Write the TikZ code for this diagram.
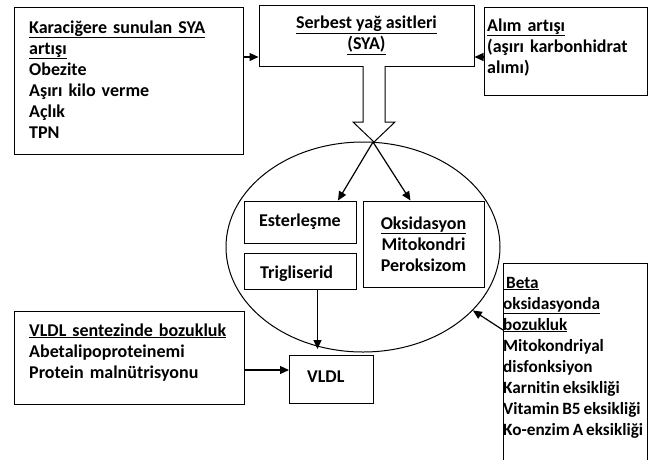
\documentclass[tikz,border=0pt]{standalone}
\usepackage{fontspec}
\setmainfont{Carlito}[Ligatures=NoCommon]
\usetikzlibrary{arrows.meta,shapes.geometric}
\begin{document}
\begin{tikzpicture}[x=1pt,y=-1pt,
  every node/.style={font=\fontsize{18}{21}\selectfont\bfseries},
  box/.style={draw, line width=1pt, inner sep=0pt, anchor=north west},
  txt/.style={anchor=base west, inner sep=0pt, align=left, text width=210pt},
  arr/.style={-{Triangle[length=9pt,width=8pt]}, line width=1.2pt},
  hollow/.style={draw, fill=white, line width=1pt, line join=miter}]
\useasboundingbox (0,0) rectangle (654,459);
% boxes (frames)
\node[box, minimum width=229pt, minimum height=147pt] (lbox) at (14,7) {};
\node[box, minimum width=215pt, minimum height=61pt, anchor=center, align=center] (sya) at (366.5,35.5)
  {\underline{Serbest yağ asitleri}\\ \underline{(SYA)}};
\node[box, minimum width=163pt, minimum height=88pt] (rbox) at (484,7) {};
\node[draw, ellipse, line width=1pt, minimum width=274pt, minimum height=210pt, inner sep=0pt] (ell) at (363,247) {};
\node[box, minimum width=112pt, minimum height=42pt, anchor=center] (ester) at (300,222) {Esterleşme};
\node[box, minimum width=112pt, minimum height=36pt] (trig) at (244,253) {};
\node[box, minimum width=121pt, minimum height=86pt, anchor=center, align=center] (oks) at (423.5,244)
  {\underline{Oksidasyon}\\ Mitokondri\\ Peroksizom};
\node[box, minimum width=230pt, minimum height=93pt] (vsent) at (14,311) {};
\node[box, minimum width=84pt, minimum height=48pt] (vldl) at (289,355) {};
\node[box, minimum width=144pt, minimum height=210pt] (betabox) at (503,263) {};
% texts
\node[txt] (ltext) at (29,33)
  {\underline{Karaciğere sunulan SYA}\\ \underline{artışı}\\ Obezite\\ Aşırı kilo verme\\ Açlık\\ TPN};
\node[txt] (rtext) at (487,31)
  {\underline{Alım artışı}\\ (aşırı karbonhidrat\\ alımı)};
\node[txt] (trigtext) at (260,278) {Trigliserid};
\node[txt] (vldltext) at (307,382) {VLDL};
\node[txt] (vsenttext) at (29,336)
  {\underline{VLDL sentezinde bozukluk}\\ Abetalipoproteinemi\\ Protein malnütrisyonu};
\node[txt, font=\fontsize{17.2}{21}\selectfont\bfseries] (betatext) at (503,288)
  {\spaceskip=3pt\relax\underline{\ Beta}\\ \underline{oksidasyonda}\\ \underline{bozukluk}\\ Mitokondriyal\\ disfonksiyon\\ Karnitin eksikliği\\ Vitamin B5 eksikliği\\ Ko-enzim A eksikliği};
% hollow arrow
\draw[hollow] (363,66) -- (363,122) -- (353,122) -- (374,142) -- (395,122) -- (385,122) -- (385,66);
\coordinate (etop) at (373,142);
% connectors
\draw[arr] ([yshift=-50pt]lbox.north east) -- ([yshift=-50pt]lbox.north east -| sya.west);
\draw[arr] ([yshift=-50pt]rbox.north west) -- ([yshift=-50pt]rbox.north west -| sya.east);
\draw[arr] (etop) -- ([xshift=38pt]ester.north);
\draw[arr] (etop) -- ([xshift=-13pt]oks.north);
\draw[arr, shorten >=6pt] ([xshift=17pt]trig.south) -- ([xshift=17pt]trig.south |- vldl.north);
\draw[arr] ([yshift=-59pt]vsent.north east) -- ([yshift=-59pt]vsent.north east -| vldl.west);
\draw[arr] ([yshift=-67pt]betabox.north west) -- (ell.-30);
\end{tikzpicture}
\end{document}
